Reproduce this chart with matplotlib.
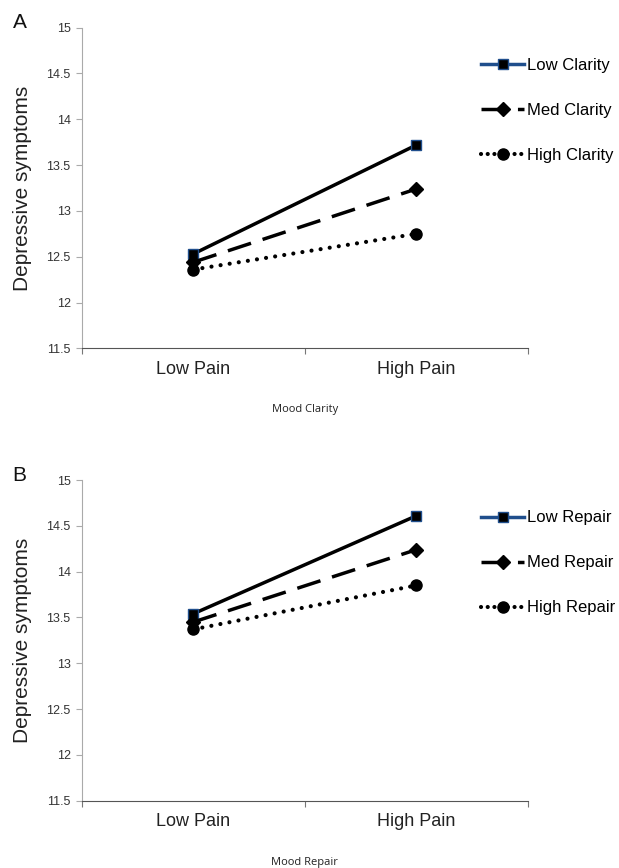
import matplotlib.pyplot as plt
from matplotlib.lines import Line2D

plt.rcParams['font.family'] = ['Liberation Sans', 'DejaVu Sans']

pain_levels = ['Low Pain', 'High Pain']
clarity_groups = ['Low Clarity', 'Med Clarity', 'High Clarity']
clarity_values = [[12.53, 13.72], [12.44, 13.24], [12.36, 12.75]]
repair_groups = ['Low Repair', 'Med Repair', 'High Repair']
repair_values = [[13.54, 14.61], [13.45, 14.24], [13.37, 13.85]]
y_ticks = [11.5, 12, 12.5, 13, 13.5, 14, 14.5, 15]

BLUE = '#1f4e8c'
styles = [
    dict(ls='-', lw=2.5, marker='s', ms=7, mfc='black', mec=BLUE, mew=1.0),
    dict(ls=(0, (7, 3.5)), lw=2.5, marker='D', ms=7.5, mfc='black', mec='black'),
    dict(ls=(0, (0.01, 2.2)), lw=3.0, marker='o', ms=8, mfc='black', mec='black',
         dash_capstyle='round'),
]


def draw_panel(fig, rect, groups, values, letter, xlabel, leg_top):
    ax = fig.add_axes(rect)
    xs = [0.5, 1.5]
    for st, vals in zip(styles, values):
        ax.plot(xs, vals, color='black', **st)
    ax.set_xlim(0, 2)
    ax.set_ylim(11.5, 15)
    ax.set_yticks(y_ticks)
    ax.set_yticklabels(['%g' % t for t in y_ticks], fontsize=9, color='#333333')
    ax.set_xticks([0, 1, 2])
    ax.set_xticklabels([])
    ax.set_xticks(xs, minor=True)
    ax.set_xticklabels(pain_levels, minor=True, fontsize=13, color='#222222')
    ax.tick_params(axis='x', which='minor', length=0, pad=9)
    ax.tick_params(axis='x', which='major', length=4, color='#777777')
    ax.tick_params(axis='y', length=4, color='#aaaaaa', pad=4)
    for s in ['top', 'right']:
        ax.spines[s].set_visible(False)
    ax.spines['left'].set_color('#aaaaaa')
    ax.spines['bottom'].set_color('#555555')
    ax.set_ylabel('Depressive symptoms', fontsize=15, color='#222222', labelpad=10)
    ax.set_xlabel(xlabel, fontsize=8, family=['Open Sans', 'DejaVu Sans'],
                  color='#222222', labelpad=19)
    ax.text(-0.139, 1.015, letter, transform=ax.transAxes, fontsize=15,
            ha='center', va='center', color='#111111')

    handles = []
    for i, st in enumerate(styles):
        h = dict(st)
        if i == 2:
            h['ls'] = (0, (0.01, 1.6))
        color = BLUE if i == 0 else 'black'
        handles.append(Line2D([], [], color=color, **h))
    fig.legend(handles, groups, loc='upper left', bbox_to_anchor=(0.777, leg_top),
               frameon=False, fontsize=12, labelspacing=1.8, handlelength=2.6,
               handletextpad=0.15, borderpad=0, borderaxespad=0)
    return ax


fig = plt.figure(figsize=(6.19, 8.68), dpi=100)
draw_panel(fig, [0.132, 0.5987, 0.721, 0.3694], clarity_groups, clarity_values,
           'A', 'Mood Clarity', 0.9335)
draw_panel(fig, [0.132, 0.0775, 0.721, 0.3695], repair_groups, repair_values,
           'B', 'Mood Repair', 0.4120)
fig.savefig('out.png', dpi=100)
